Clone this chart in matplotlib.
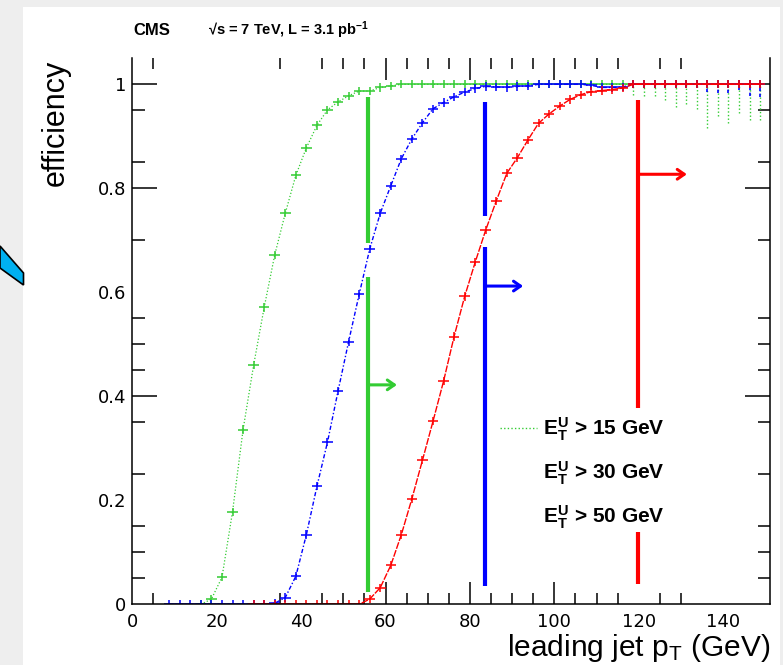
import matplotlib
matplotlib.use('Agg')
import matplotlib.pyplot as plt
from matplotlib.lines import Line2D
from matplotlib.patches import Rectangle, Polygon

plt.rcParams['font.family'] = ['Liberation Sans', 'DejaVu Sans']
plt.rcParams['mathtext.fontset'] = 'custom'
plt.rcParams['mathtext.rm'] = 'Liberation Sans'
plt.rcParams['mathtext.it'] = 'Liberation Sans:italic'
plt.rcParams['mathtext.bf'] = 'Liberation Sans:bold'

# ---------------- data ----------------
pt_green = [16.25, 18.75, 21.25, 23.75, 26.25, 28.75, 31.25, 33.75, 36.25, 38.75,
            41.25, 43.75, 46.25, 48.75, 51.25, 53.75, 56.25, 58.75, 61.25, 63.75,
            66.25, 68.75, 71.25, 73.75, 76.25, 78.75, 81.25, 83.75, 86.25, 88.75,
            91.25, 93.75, 96.25, 98.75, 101.25, 103.75, 106.25, 108.75, 111.25, 113.75,
            116.25, 118.75, 121.25, 123.75, 126.25, 128.75, 131.25, 133.75, 136.25, 138.75,
            141.25, 143.75, 146.25, 148.75]
eff_green = [0.000, 0.010, 0.052, 0.178, 0.336, 0.460, 0.571, 0.672, 0.752, 0.825,
             0.878, 0.921, 0.951, 0.966, 0.978, 0.987, 0.987, 0.994, 0.997, 1.0,
             1.0, 1.0, 1.0, 1.0, 1.0, 1.0, 1.0, 1.0, 1.0, 1.0,
             1.0, 1.0, 1.0, 1.0, 1.0, 1.0, 1.0, 1.0, 1.0, 1.0,
             1.0, 1.0, 1.0, 1.0, 1.0, 1.0, 1.0, 1.0, 1.0, 1.0,
             1.0, 1.0, 1.0, 1.0]

pt_blue = [8.75, 11.25, 13.75, 16.25, 18.75, 21.25, 23.75, 26.25, 28.75, 31.25,
           33.75, 36.25, 38.75, 41.25, 43.75, 46.25, 48.75, 51.25, 53.75, 56.25,
           58.75, 61.25, 63.75, 66.25, 68.75, 71.25, 73.75, 76.25, 78.75, 81.25,
           83.75, 86.25, 88.75, 91.25, 93.75, 96.25, 98.75, 101.25, 103.75, 106.25,
           108.75, 111.25, 113.75, 116.25, 118.75, 121.25, 123.75, 126.25, 128.75, 131.25,
           133.75, 136.25, 138.75, 141.25, 143.75, 146.25, 148.75]
eff_blue = [0.0, 0.0, 0.0, 0.0, 0.0, 0.0, 0.0, 0.0, 0.0, 0.0,
            0.002, 0.013, 0.054, 0.134, 0.227, 0.312, 0.410, 0.505, 0.596, 0.683,
            0.752, 0.805, 0.857, 0.895, 0.926, 0.953, 0.965, 0.976, 0.985, 0.992,
            0.996, 0.995, 0.994, 0.996, 0.997, 1.0, 1.0, 1.0, 1.0, 1.0,
            0.998, 0.994, 0.994, 0.995, 1.0, 1.0, 1.0, 1.0, 1.0, 1.0,
            1.0, 1.0, 1.0, 1.0, 1.0, 1.0, 1.0]

pt_red = [28.75, 31.25, 33.75, 36.25, 38.75, 41.25, 43.75, 46.25, 48.75, 51.25,
          53.75, 56.25, 58.75, 61.25, 63.75, 66.25, 68.75, 71.25, 73.75, 76.25,
          78.75, 81.25, 83.75, 86.25, 88.75, 91.25, 93.75, 96.25, 98.75, 101.25,
          103.75, 106.25, 108.75, 111.25, 113.75, 116.25, 118.75, 121.25, 123.75, 126.25,
          128.75, 131.25, 133.75, 136.25, 138.75, 141.25, 143.75, 146.25, 148.75]
eff_red = [0.0, 0.0, 0.0, 0.0, 0.0, 0.0, 0.0, 0.0, 0.0, 0.0,
           0.0, 0.010, 0.032, 0.075, 0.134, 0.203, 0.277, 0.352, 0.429, 0.515,
           0.592, 0.658, 0.720, 0.776, 0.829, 0.859, 0.893, 0.925, 0.943, 0.958,
           0.971, 0.980, 0.986, 0.988, 0.990, 0.993, 1.0, 1.0, 1.0, 1.0,
           1.0, 1.0, 1.0, 1.0, 1.0, 1.0, 1.0, 1.0, 1.0]

# large downward (statistical) errors on the plateau
pt_tail = [118.75, 121.25, 123.75, 126.25, 128.75, 131.25, 133.75, 136.25, 138.75,
           141.25, 143.75, 146.25, 148.75]
errlo_green_tail = [0.021, 0.023, 0.023, 0.030, 0.044, 0.037, 0.047, 0.084, 0.060,
                    0.075, 0.056, 0.068, 0.068]
errlo_blue_tail = [0.004, 0.004, 0.004, 0.004, 0.005, 0.005, 0.006, 0.014, 0.016,
                   0.016, 0.010, 0.022, 0.024]

bin_half_width = 1.25
cross_err = 0.008

labels = [r'$\mathbf{E_T^U}$ > 15 GeV', r'$\mathbf{E_T^U}$ > 30 GeV',
          r'$\mathbf{E_T^U}$ > 50 GeV']

# threshold markers (plateau start)
thr_pt = [55.9, 83.6, 119.8]
thr_segments = [[(0.023, 0.630), (0.695, 0.975)],
                [(0.036, 0.688), (0.747, 0.966)],
                [(0.040, 0.140), (0.378, 0.969)]]
thr_arrow_y = [0.422, 0.612, 0.827]
thr_arrow_end = [62.7, 92.6, 131.4]

xticks = [0, 20, 40, 60, 80, 100, 120, 140]
xticks_hidden = [0, 20, 40, 120, 140]
xminor = [5, 35, 45, 50, 55, 65, 70, 75, 85, 90, 95, 105, 110, 115, 125, 130]
yticks = [0, 0.2, 0.4, 0.6, 0.8, 1.0]
yticklabels = ['0', '0.2', '0.4', '0.6', '0.8', '1']
yticks_hidden = [0, 0.2, 0.6]
yminor = [0.05, 0.1, 0.15, 0.25, 0.35, 0.45, 0.5, 0.55, 0.7, 0.85, 0.95]

GREEN = '#33cc33'
BLUE = '#0000ff'
RED = '#ff0000'
colors = [GREEN, BLUE, RED]

# ---------------- figure ----------------
W, H = 783, 665
fig = plt.figure(figsize=(W / 100, H / 100), dpi=100)
fig.patch.set_facecolor('#eeeeee')
fig.add_artist(Rectangle((23 / W, 0), (780 - 23) / W, (H - 7) / H,
                         transform=fig.transFigure, fc='white', ec='none', zorder=0))
wedge_px = [(0, 246), (23.5, 273), (23.5, 285), (0, 268)]
fig.add_artist(Polygon([(x / W, 1 - y / H) for x, y in wedge_px], closed=True,
                       transform=fig.transFigure, fc='#00b0f0', ec='black', lw=1.2,
                       zorder=0.5))

ax_l, ax_r, ax_b, ax_t = 132.3, 770.0, 604.3, 58.0
ax = fig.add_axes([ax_l / W, (H - ax_b) / H, (ax_r - ax_l) / W, (ax_b - ax_t) / H])
ax.set_facecolor('white')
ax.set_xlim(0, 151.1)
ax.set_ylim(0, 1.0506)

series = [(pt_green, eff_green, (0, (1, 1.6)), 0.9),
          (pt_blue, eff_blue, (0, (3, 1.5, 1, 1.5)), 1.0),
          (pt_red, eff_red, (0, (5, 1)), 1.0)]
for (xs, ys, ls, lw), c in zip(series, colors):
    ax.plot(xs, ys, color=c, ls=ls, lw=lw, zorder=2)
    ax.errorbar(xs, ys, xerr=bin_half_width, yerr=cross_err, fmt='none',
                ecolor=c, elinewidth=1.1, capsize=0, zorder=2)
    if c == GREEN:
        ax.vlines(pt_tail, [1 - e for e in errlo_green_tail], 1.0, colors=c,
                  linestyles=(0, (1, 1.6)), lw=1.0, zorder=1.9)
    if c == BLUE:
        ax.vlines(pt_tail, [1 - e for e in errlo_blue_tail], 1.0, colors=c,
                  linestyles=(0, (2, 1.5)), lw=1.2, zorder=1.9)

for xv, segs, ya, xe, c in zip(thr_pt, thr_segments, thr_arrow_y, thr_arrow_end, colors):
    for y0, y1 in segs:
        ax.plot([xv, xv], [y0, y1], color=c, lw=3.0, solid_capstyle='butt', zorder=3)
    ax.annotate('', xy=(xe, ya), xytext=(xv, ya),
                arrowprops=dict(arrowstyle='->,head_length=0.5,head_width=0.35',
                                color=c, lw=2.2, shrinkA=0, shrinkB=0), zorder=3)

# legend
handles = [Line2D([], [], color=GREEN, ls=(0, (1, 1.6)), lw=1.0),
           Line2D([], [], color='none'),
           Line2D([], [], color='none')]
leg = ax.legend(handles, labels, loc='upper left', bbox_to_anchor=(0.5766, 0.345),
                frameon=False, borderpad=0, borderaxespad=0, handlelength=1.8,
                handletextpad=0.25, labelspacing=0.78,
                prop={'family': 'Liberation Sans', 'weight': 'bold', 'size': 15})

# spines
ax.spines['top'].set_visible(False)
for s in ['left', 'right', 'bottom']:
    ax.spines[s].set_linewidth(1.1)

# ticks
ax.set_xticks(xticks)
ax.set_xticklabels([str(t) for t in xticks])
ax.set_xticks(xminor, minor=True)
ax.set_yticks(yticks)
ax.set_yticklabels(yticklabels)
ax.set_yticks(yminor, minor=True)
ax.tick_params(axis='x', which='major', direction='in', length=16, width=1.1,
               top=True, bottom=True, labelsize=13, pad=6.5)
ax.tick_params(axis='x', which='minor', direction='in', length=8, width=1.1,
               top=True, bottom=True)
ax.tick_params(axis='y', which='major', direction='in', length=18, width=1.1,
               left=True, right=True, labelsize=13, pad=4.5)
ax.tick_params(axis='y', which='minor', direction='in', length=9, width=1.1,
               left=True, right=True)
for lab in ax.get_xticklabels() + ax.get_yticklabels():
    lab.set_family(['DejaVu Sans'])
for t in ax.xaxis.get_major_ticks():
    if t.get_loc() in xticks_hidden:
        t.tick1line.set_visible(False)
        t.tick2line.set_visible(False)
for t in ax.yaxis.get_major_ticks():
    if any(abs(t.get_loc() - h) < 1e-9 for h in yticks_hidden):
        t.tick1line.set_visible(False)
        t.tick2line.set_visible(False)

# axis labels
ax.set_xlabel(r'leading jet p$_{\mathrm{T}}$ (GeV)', fontsize=21.5, loc='right')
ax.xaxis.set_label_coords(1.0, (ax_b - 656) / (ax_b - ax_t))
ax.xaxis.label.set_va('baseline')
ax.set_ylabel('efficiency', fontsize=22, loc='top')
ax.yaxis.set_label_coords((71 - ax_l) / (ax_r - ax_l), (ax_b - 60) / (ax_b - ax_t))
ax.yaxis.label.set_va('bottom')

fig.text(133 / W, 1 - 35 / H, 'CMS', fontsize=12, weight='bold',
         ha='left', va='baseline')
fig.text(208 / W, 1 - 35 / H, '√s = 7 TeV, L = 3.1 pb$^{\\mathbf{-1}}$',
         fontsize=10.5, weight='bold', ha='left', va='baseline')

fig.savefig('out.png', dpi=100, facecolor=fig.get_facecolor())
